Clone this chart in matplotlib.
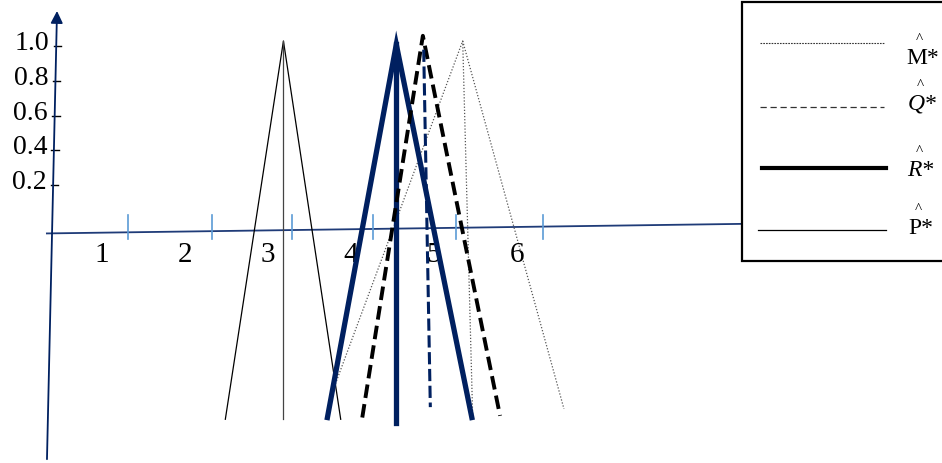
import matplotlib
matplotlib.use('Agg')
import matplotlib.pyplot as plt
from matplotlib.patches import Rectangle

plt.rcParams['font.family'] = ['Liberation Serif', 'DejaVu Serif']

# triangles: (left x, left y), apex, (right x, right y), and the vertical line
P_tri = [(2.51, -1.15), (3.21, 1.03), (3.90, -1.15)]
P_mid = [(3.21, 1.03), (3.21, -1.15)]
R_tri = [(3.74, -1.14), (4.57, 1.01), (5.48, -1.14)]
R_mid = [(4.57, 1.01), (4.57, -1.17)]
Q_tri = [(4.16, -1.14), (4.89, 1.06), (5.82, -1.13)]
Q_mid = [(4.90, 0.98), (4.98, -1.08)]
M_tri = [(3.81, -0.98), (5.37, 1.03), (6.59, -1.09)]
M_mid = [(5.37, 1.03), (5.49, -1.13)]

y_ticks = [0.2, 0.4, 0.6, 0.8, 1.0]
y_labels = ['0.2', '0.4', '0.6', '0.8', '1.0']
x_labels = [1, 2, 3, 4, 5, 6]
x_ticks = [1.34, 2.35, 3.31, 4.29, 5.29, 6.34]

navy = '#002060'
axis_col = '#1f3b78'
tick_col = '#5b9bd5'

fig = plt.figure(figsize=(9.42, 4.64), dpi=100)
ax = fig.add_axes([0, 0, 1, 1])
ax.set_xlim(-0.205, 11.145)
ax.set_ylim(-1.402, 1.272)
ax.axis('off')

def xy(pts):
    return [p[0] for p in pts], [p[1] for p in pts]

# axes (slightly tilted, like the original drawing)
ax.plot([0.36, 11.15], [-0.079, -0.008], color=axis_col, lw=1.3, zorder=1)
ax.annotate('', xy=(0.482, 1.203), xytext=(0.361, -1.38),
            arrowprops=dict(arrowstyle='-|>', color=navy, lw=1.3,
                            mutation_scale=18, shrinkA=0, shrinkB=0))

for t in x_ticks:
    ax.plot([t, t], [0.026, -0.111], color=tick_col, lw=1.2, zorder=1)
for v in x_labels:
    ax.text(v + 0.02, -0.20, str(v), ha='center', va='center', fontsize=21)

for v, lab in zip(y_ticks, y_labels):
    xa = 0.361 + (v + 1.38) / 2.583 * 0.121
    ax.plot([xa - 0.03, xa + 0.06], [v, v], color='black', lw=1.0)
    ax.text(xa - 0.08, v + 0.02, lab, ha='right', va='center', fontsize=20)

# M* dotted
x, y = xy(M_tri)
ax.plot(x, y, color='#555555', lw=0.9, ls=(0, (1, 1.5)), zorder=2)
x, y = xy(M_mid)
ax.plot(x, y, color='#555555', lw=0.9, ls=(0, (1, 1.5)), zorder=2)

# P* thin solid
x, y = xy(P_tri)
ax.plot(x, y, color='black', lw=0.9, zorder=2)
x, y = xy(P_mid)
ax.plot(x, y, color='#444444', lw=0.9, zorder=2)

# R* thick navy
x, y = xy(R_tri)
ax.plot(x, y, color=navy, lw=3.8, solid_joinstyle='miter', zorder=3)
x, y = xy(R_mid)
ax.plot(x, y, color=navy, lw=3.8, zorder=3)

# Q* thick dashed
x, y = xy(Q_tri)
ax.plot(x, y, color='black', lw=2.8, ls=(0, (3.5, 1.6)), zorder=4)
x, y = xy(Q_mid)
ax.plot(x, y, color=navy, lw=2.2, ls=(0, (4, 1.5)), zorder=4)

# legend drawn by hand in pixel space
lg = fig.add_axes([0, 0, 1, 1])
lg.set_xlim(0, 942)
lg.set_ylim(464, 0)
lg.axis('off')
lg.add_patch(Rectangle((742, 3), 240, 259, facecolor='white',
                       edgecolor='black', lw=1.6, clip_on=False))
lg.plot([760, 884], [44, 44], color='#333333', lw=0.8, ls=(0, (1.5, 1)))
lg.plot([760, 884], [108, 108], color='#333333', lw=0.9, ls=(0, (5, 3)))
lg.plot([762, 886], [169, 169], color='black', lw=3.0)
lg.plot([758, 886], [231, 231], color='black', lw=0.9)

legend_labels = [('M*', 'normal', 906, 58, 919),
                 ('Q*', 'italic', 908, 104, 920),
                 ('R*', 'italic', 907, 171, 919),
                 ('P*', 'normal', 908, 229, 918)]
for txt, style, tx, ty, cx in legend_labels:
    lg.text(tx, ty, txt, fontsize=17, style=style, ha='left', va='center')
    lg.text(cx, ty - 19, '^', fontsize=11, ha='center', va='center')

fig.savefig('out.png', dpi=100)
